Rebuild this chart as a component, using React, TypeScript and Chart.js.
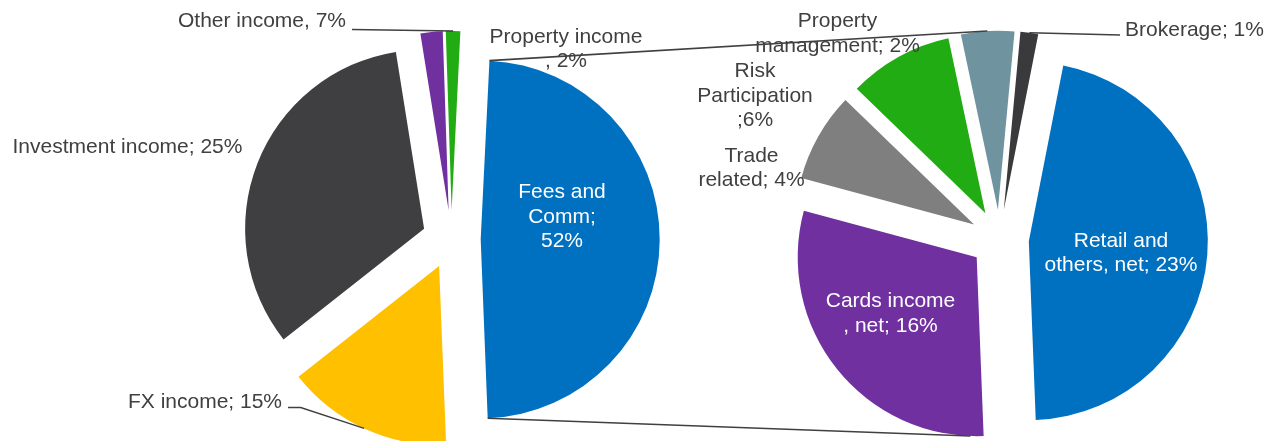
import React, { useEffect, useRef } from 'react';
import { Chart, registerables } from 'chart.js';

Chart.register(...registerables);

// ---------- DATA ----------
// Main pie (left). (percent of the pie).
const mainCategories = ['Fees and Comm', 'FX income', 'Investment income', 'Property income', 'Other income'];
const mainValues = [48.6, 15.0, 33.1, 2.0, 1.3];
const mainLabelLines = [
  ['Fees and', 'Comm;', '52%'],
  ['FX income; 15%'],
  ['Investment income; 25%'],
  ['Property income', ', 2%'],
  ['Other income, 7%'],
];

// Secondary pie (right): breakdown of Fees and Comm
const subCategories = ['Retail and others, net', 'Cards income, net', 'Trade related', 'Risk Participation', 'Property management', 'Brokerage'];
const subValues = [46.3, 29.8, 8.05, 9.45, 4.8, 1.6];
const subLabelLines = [
  ['Retail and', 'others, net; 23%'],
  ['Cards income', ', net; 16%'],
  ['Trade', 'related; 4%'],
  ['Risk', 'Participation', ';6%'],
  ['Property', 'management; 2%'],
  ['Brokerage; 1%'],
];

// ---------- STYLE / LAYOUT ----------
const W = 1281;
const H = 441;
const mainColors = ['#0070C0', '#FFC000', '#3F3F41', '#7030A0', '#22AC13'];
const subColors = ['#0070C0', '#7030A0', '#7F7F7F', '#22AC13', '#6F94A0', '#3A3A3C'];
const TEXT = '#404040';
const FONT = "21px 'Liberation Sans', Arial, sans-serif";
const LINE_H = 24.2;

const LEFT = { cx: 451.4, cy: 239.3, r: 179, explode: 29.3, rotation: 2.8 };
const RIGHT = { cx: 999.6, cy: 238.9, r: 179, explode: 29.3, rotation: 11.1 };

type LabelPos = { x: number; y: number; color?: string; leader?: number[][] };
const mainLabelPos: LabelPos[] = [
  { x: 562, y: 198.3, color: '#FFFFFF' },
  { x: 205, y: 408.3, leader: [[288, 407.5], [300.7, 407.5]] },
  { x: 127.5, y: 153.3 },
  { x: 566, y: 42.7 },
  { x: 262, y: 27, leader: [[352, 29.5]] },
];
const subLabelPos: LabelPos[] = [
  { x: 1121, y: 246.7, color: '#FFFFFF' },
  { x: 890.5, y: 307.3, color: '#FFFFFF' },
  { x: 751.5, y: 161.5 },
  { x: 755, y: 77.3 },
  { x: 837.5, y: 27.3 },
  { x: 1194.5, y: 35.7, leader: [[1120, 35]] },
];
// where the series lines meet the second pie (degrees clockwise from top)
const CONNECT_TOP_DEG = 356.6;
const CONNECT_BOTTOM_DEG = 182;

// ---------- HELPERS ----------
const TAU = Math.PI * 2;

function pieOuterPoint(chart: any, deg: number) {
  const meta = chart.getDatasetMeta(0);
  const a = ((deg - 90) * Math.PI) / 180;
  for (const arc of meta.data as any[]) {
    const s = arc.startAngle;
    const e = arc.endAngle;
    let t = a;
    while (t < s) t += TAU;
    while (t >= s + TAU) t -= TAU;
    if (t <= e) return { x: arc.x + arc.outerRadius * Math.cos(t), y: arc.y + arc.outerRadius * Math.sin(t) };
  }
  return { x: 0, y: 0 };
}

function arcPoint(arc: any, angle: number) {
  return { x: arc.x + arc.outerRadius * Math.cos(angle), y: arc.y + arc.outerRadius * Math.sin(angle) };
}

const explodePlugin = {
  id: 'explodeSlices',
  afterDatasetUpdate(chart: any, args: any) {
    const dist = chart.options.plugins.explodeSlices?.distance || 0;
    for (const arc of args.meta.data as any[]) {
      const mid = (arc.startAngle + arc.endAngle) / 2;
      arc.x += dist * Math.cos(mid);
      arc.y += dist * Math.sin(mid);
    }
  },
};

function drawLabels(chart: any, lines: string[][], pos: LabelPos[]) {
  const ctx = chart.ctx as CanvasRenderingContext2D;
  const arcs = chart.getDatasetMeta(0).data as any[];
  ctx.save();
  ctx.font = FONT;
  ctx.textAlign = 'center';
  ctx.textBaseline = 'alphabetic';
  // leader lines
  ctx.strokeStyle = TEXT;
  ctx.lineWidth = 1.4;
  pos.forEach((p, i) => {
    if (!p.leader) return;
    const arc = arcs[i];
    const end = arcPoint(arc, (arc.startAngle + arc.endAngle) / 2);
    ctx.beginPath();
    ctx.moveTo(p.leader[0][0], p.leader[0][1]);
    for (let k = 1; k < p.leader.length; k++) ctx.lineTo(p.leader[k][0], p.leader[k][1]);
    ctx.lineTo(end.x, end.y);
    ctx.stroke();
  });
  pos.forEach((p, i) => {
    ctx.fillStyle = p.color || TEXT;
    lines[i].forEach((ln, k) => ctx.fillText(ln, p.x, p.y + k * LINE_H));
  });
  ctx.restore();
}

function pieConfig(categories: string[], values: number[], colors: string[], geo: any, extraPlugins: any[]) {
  return {
    type: 'pie' as const,
    data: {
      labels: categories,
      datasets: [
        {
          data: values,
          backgroundColor: colors,
          borderWidth: 0,
          radius: geo.r,
          rotation: geo.rotation,
          clip: false as any,
        },
      ],
    },
    options: {
      responsive: false,
      animation: false as const,
      events: [] as any[],
      layout: {
        padding: {
          left: Math.max(0, 2 * geo.cx - W),
          right: Math.max(0, W - 2 * geo.cx),
          top: Math.max(0, 2 * geo.cy - H),
          bottom: Math.max(0, H - 2 * geo.cy),
        },
      },
      plugins: {
        legend: { display: false },
        tooltip: { enabled: false },
        explodeSlices: { distance: geo.explode },
      } as any,
    },
    plugins: [explodePlugin, ...extraPlugins],
  };
}

export default function App() {
  const leftRef = useRef<HTMLCanvasElement>(null);
  const rightRef = useRef<HTMLCanvasElement>(null);

  useEffect(() => {
    const leftLabels = {
      id: 'leftLabels',
      afterDraw(chart: any) {
        drawLabels(chart, mainLabelLines, mainLabelPos);
      },
    };
    const left = new Chart(leftRef.current as HTMLCanvasElement, pieConfig(mainCategories, mainValues, mainColors, LEFT, [leftLabels]) as any);

    const rightLabels = {
      id: 'rightLabels',
      afterDraw(chart: any) {
        drawLabels(chart, subLabelLines, subLabelPos);
        // series lines joining the aggregated slice to the second pie
        const agg = (left.getDatasetMeta(0).data as any[])[0];
        const a = arcPoint(agg, agg.startAngle);
        const b = arcPoint(agg, agg.endAngle);
        const top = pieOuterPoint(chart, CONNECT_TOP_DEG);
        const bot = pieOuterPoint(chart, CONNECT_BOTTOM_DEG);
        const ctx = chart.ctx as CanvasRenderingContext2D;
        ctx.save();
        ctx.strokeStyle = TEXT;
        ctx.lineWidth = 1.6;
        ctx.beginPath();
        ctx.moveTo(a.x, a.y);
        ctx.lineTo(top.x, top.y);
        ctx.moveTo(b.x, b.y);
        ctx.lineTo(bot.x, bot.y);
        ctx.stroke();
        ctx.restore();
      },
    };
    const right = new Chart(rightRef.current as HTMLCanvasElement, pieConfig(subCategories, subValues, subColors, RIGHT, [rightLabels]) as any);

    return () => {
      right.destroy();
      left.destroy();
    };
  }, []);

  return (
    <div style={{ position: 'fixed', left: 0, top: 0, width: W, height: H, background: '#FFFFFF', overflow: 'hidden' }}>
      <canvas ref={leftRef} width={W} height={H} style={{ position: 'absolute', left: 0, top: 0 }} />
      <canvas ref={rightRef} width={W} height={H} style={{ position: 'absolute', left: 0, top: 0 }} />
    </div>
  );
}
